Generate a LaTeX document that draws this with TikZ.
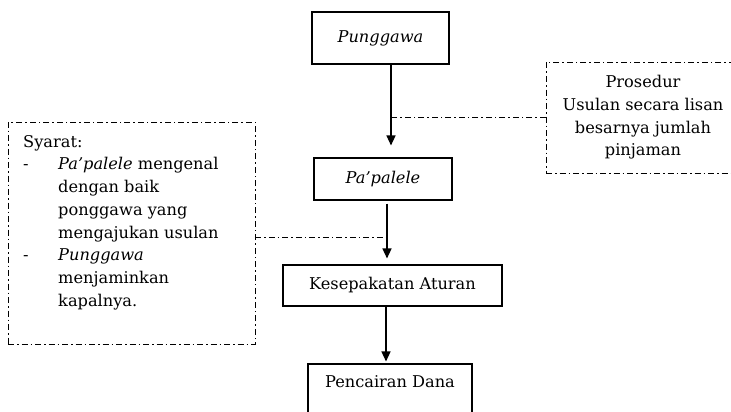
\documentclass[tikz,border=0pt]{standalone}
\usepackage{fontspec}
\setmainfont{DejaVu Serif}
\usetikzlibrary{arrows.meta,positioning}

\begin{document}
\begin{tikzpicture}[x=1pt, y=-1pt, >={Triangle[length=10pt,width=9pt]},
    font=\fontsize{16.2}{22.7}\selectfont,
    box/.style={draw, line width=1.1pt, inner sep=3pt},
    flow/.style={->, line width=1.4pt},
    note/.style={line width=0.8pt, dash pattern=on 6pt off 3pt on 1.5pt off 3pt}]

    % Page frame
    \useasboundingbox (0,0) rectangle (731,412);

    % Main flow boxes
    \node[box, minimum width=137pt, minimum height=52pt] (pung) at (380.5,38) {\textit{Punggawa}};
    \node[box, minimum width=138pt, minimum height=42pt] (pap) at (383,179) {\textit{Pa'palele}};
    \node[box, minimum width=219pt, minimum height=41pt] (kesep) at (392.5,285.5) {Kesepakatan Aturan};
    \node[box, minimum width=164pt, minimum height=60pt, text depth=24pt] (cair) at (390,394) {Pencairan Dana};

    % Arrows between the boxes
    \draw[flow, shorten >=12pt] ([xshift=10.5pt]pung.south) coordinate (s1) -- (s1 |- pap.north);
    \draw[flow, shorten <=3pt, shorten >=6pt] ([xshift=4pt]pap.south) coordinate (s2) -- (s2 |- kesep.north);
    \draw[flow, shorten >=2pt] ([xshift=-6.5pt]kesep.south) coordinate (s3) -- (s3 |- cair.north);

    % Prosedur note (right)
    \node[note, draw, align=center, minimum width=194pt, minimum height=111pt] (pros) at (643,117.5)
        {Prosedur\\Usulan secara lisan\\besarnya jumlah\\pinjaman};
    \draw[note] (pros.west) -- (pros.west -| s1);

    % Syarat note (left)
    \node[note, draw, minimum width=247pt, minimum height=222pt] (syaratbox) at (131.5,233) {};
    \node[align=left, anchor=north west, inner sep=0pt] (syarattext) at (23,135) {Syarat:\\
        \makebox[35pt][l]{-}\textit{Pa'palele} mengenal\\
        \hspace*{35pt}dengan baik\\
        \hspace*{35pt}ponggawa yang\\
        \hspace*{35pt}mengajukan usulan\\
        \makebox[35pt][l]{-}\textit{Punggawa}\\
        \hspace*{35pt}menjaminkan\\
        \hspace*{35pt}kapalnya.};
    \draw[note] ([yshift=-4pt]syaratbox.east) coordinate (n2) -- (n2 -| s2);

\end{tikzpicture}
\end{document}
